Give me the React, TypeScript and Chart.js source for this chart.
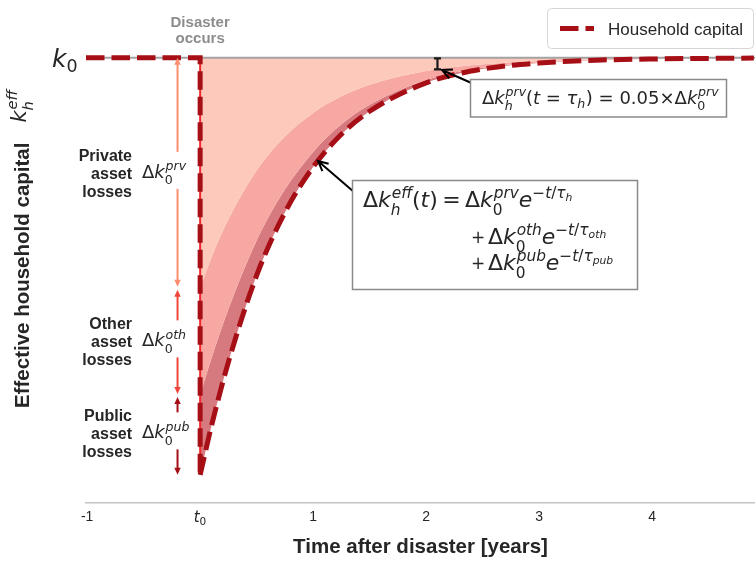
import React, { useEffect, useRef } from 'react';
import { Chart, registerables } from 'chart.js';

Chart.register(...registerables);

// ---------------- data ----------------
const K0 = 100; // pre-disaster capital level
const X_MIN = -1.01;
const X_MAX = 4.91;
const Y_MIN = 0;
const Y_MAX = 113;
const TAU_H = 2.1; // time at which private loss has fallen to 5 %
const ARROW_T = -0.2; // x position of the loss arrows

const xTicks = [-1, 0, 1, 2, 3, 4];
const xTickLabels = ['-1', '', '1', '2', '3', '4']; // t0 drawn as math below

const times = [0, 0.1, 0.25, 0.5, 0.75, 1, 1.25, 1.5, 2, 2.5, 3, 3.5, 4, 4.9];
const prvLoss = [51.67, 44.82, 36.28, 25.32, 17.68, 12.36, 8.63, 6.02, 2.94, 1.44, 0.7, 0.34, 0.17, 0.04];
const othLoss = [24.04, 22.69, 20.22, 15.73, 11.91, 8.76, 6.29, 4.49, 2.02, 0.79, 0.34, 0.13, 0.06, 0.01];
const pubLoss = [17.97, 15.21, 11.84, 7.82, 5.14, 3.39, 2.25, 1.48, 0.65, 0.28, 0.12, 0.05, 0.02, 0.0];

const COL_PRV_FILL = '#fdc9bb';
const COL_OTH_FILL = '#f7a8a2';
const COL_PUB_FILL = '#d77a7f';
const COL_PRV = '#fc8d6f';
const COL_OTH = '#f0453a';
const COL_PUB = '#a50f15';
const COL_LINE = '#a50f15';
const TXT = '#262626';

// ---------------- math text helpers ----------------
type M = { t?: string; it?: boolean; sub?: M[]; sup?: M[]; dx?: number };
const MF = '"DejaVu Sans"';

function setF(ctx: CanvasRenderingContext2D, size: number, it: boolean) {
  ctx.font = `${it ? 'italic ' : ''}${size}px ${MF}`;
}

function drawMath(ctx: CanvasRenderingContext2D, items: M[], x: number, y: number, size: number): number {
  let cx = x;
  for (const it of items) {
    if (it.dx !== undefined) {
      cx += it.dx * size;
    } else if (it.t !== undefined) {
      setF(ctx, size, !!it.it);
      ctx.fillText(it.t, cx, y);
      cx += ctx.measureText(it.t).width;
    } else {
      const s = size * 0.7;
      let w = 0;
      if (it.sup) w = Math.max(w, drawMath(ctx, it.sup, cx + (it.sub ? size * 0.04 : 0), y - size * 0.42, s));
      if (it.sub) w = Math.max(w, drawMath(ctx, it.sub, cx, y + size * (it.sup ? 0.36 : 0.22), s));
      cx += w + size * 0.03;
    }
  }
  return cx - x;
}

const I = (t: string): M => ({ t, it: true });
const R = (t: string): M => ({ t });
const SP = (dx: number): M => ({ dx });

function dArrow(ctx: CanvasRenderingContext2D, x: number, y1: number, y2: number, color: string) {
  const hl = 7;
  const hw = 3.2;
  ctx.strokeStyle = color;
  ctx.fillStyle = color;
  ctx.lineWidth = 2;
  ctx.beginPath();
  ctx.moveTo(x, y1 + hl - 1);
  ctx.lineTo(x, y2 - hl + 1);
  ctx.stroke();
  ctx.beginPath();
  ctx.moveTo(x, y1);
  ctx.lineTo(x - hw, y1 + hl);
  ctx.lineTo(x + hw, y1 + hl);
  ctx.closePath();
  ctx.fill();
  ctx.beginPath();
  ctx.moveTo(x, y2);
  ctx.lineTo(x - hw, y2 - hl);
  ctx.lineTo(x + hw, y2 - hl);
  ctx.closePath();
  ctx.fill();
}

function openArrow(ctx: CanvasRenderingContext2D, x1: number, y1: number, x2: number, y2: number) {
  const a = Math.atan2(y2 - y1, x2 - x1);
  const hl = 11;
  const ha = 0.45;
  ctx.strokeStyle = '#000';
  ctx.lineWidth = 2;
  ctx.lineCap = 'butt';
  ctx.beginPath();
  ctx.moveTo(x1, y1);
  ctx.lineTo(x2, y2);
  ctx.moveTo(x2 - hl * Math.cos(a - ha), y2 - hl * Math.sin(a - ha));
  ctx.lineTo(x2, y2);
  ctx.lineTo(x2 - hl * Math.cos(a + ha), y2 - hl * Math.sin(a + ha));
  ctx.stroke();
}

const annotations = {
  id: 'annotations',
  afterDraw(chart: any) {
    const ctx: CanvasRenderingContext2D = chart.ctx;
    const xs = chart.scales.x;
    const ys = chart.scales.y;
    const px = (v: number) => xs.getPixelForValue(v);
    const py = (v: number) => ys.getPixelForValue(v);
    ctx.save();
    ctx.textBaseline = 'alphabetic';
    ctx.textAlign = 'left';

    // t0 tick label
    ctx.fillStyle = TXT;
    drawMath(ctx, [I('t'), { sub: [R('0')] }], px(0) - 6.5, 522, 15);

    // y axis title
    ctx.save();
    ctx.translate(28.5, 408);
    ctx.rotate(-Math.PI / 2);
    ctx.fillStyle = TXT;
    ctx.font = 'bold 20.5px "Liberation Sans"';
    ctx.fillText('Effective household capital', 0, 0);
    const tw = ctx.measureText('Effective household capital').width;
    drawMath(ctx, [I('k'), { sub: [I('h')], sup: [I('eff')] }], tw + 20, -3, 21);
    ctx.restore();

    // k0 label
    ctx.fillStyle = TXT;
    drawMath(ctx, [I('k'), { sub: [R('0')] }], 52, py(K0) + 9, 25);

    // Disaster occurs
    ctx.fillStyle = '#8c8c8c';
    ctx.font = 'bold 15px "Liberation Sans"';
    ctx.textAlign = 'center';
    ctx.fillText('Disaster', px(0), 27);
    ctx.fillText('occurs', px(0), 43);
    ctx.textAlign = 'left';

    // loss arrows
    const ax = px(ARROW_T);
    const yTop = py(K0);
    const yP = py(K0 - prvLoss[0]);
    const yO = py(K0 - prvLoss[0] - othLoss[0]);
    const yB = py(K0 - prvLoss[0] - othLoss[0] - pubLoss[0]);
    dArrow(ctx, ax, yTop, yP - 1, COL_PRV);
    dArrow(ctx, ax, yP + 2, yO - 1, COL_OTH);
    dArrow(ctx, ax, yO + 2, yB, COL_PUB);

    const groups = [
      { c: (yTop + yP) / 2, lines: ['Private', 'asset', 'losses'], sup: 'prv' },
      { c: (yP + yO) / 2, lines: ['Other', 'asset', 'losses'], sup: 'oth' },
      { c: (yO + yB) / 2 - 1.5, lines: ['Public', 'asset', 'losses'], sup: 'pub' },
    ];
    for (const g of groups) {
      ctx.fillStyle = '#ffffff';
      ctx.fillRect(ax - 6, g.c - 21, 12, 37);
      ctx.fillStyle = TXT;
      ctx.font = 'bold 16px "Liberation Sans"';
      ctx.textAlign = 'right';
      g.lines.forEach((l, i) => ctx.fillText(l, 132, g.c - 12 + i * 18));
      ctx.textAlign = 'left';
      drawMath(ctx, [R('Δ'), I('k'), { sub: [R('0')], sup: [I(g.sup)] }], 142, g.c + 5, 18);
    }

    // 5 % marker at tau_h
    const mx = px(TAU_H);
    const my1 = py(K0);
    const my2 = py(K0 - 0.05 * prvLoss[0]);
    ctx.strokeStyle = '#1a1a1a';
    ctx.lineWidth = 2.2;
    ctx.beginPath();
    ctx.moveTo(mx, my1);
    ctx.lineTo(mx, my2);
    ctx.moveTo(mx - 3.5, my1 + 0.5);
    ctx.lineTo(mx + 3.5, my1 + 0.5);
    ctx.moveTo(mx - 3.5, my2);
    ctx.lineTo(mx + 3.5, my2);
    ctx.stroke();

    openArrow(ctx, 476, 85, 442, 70);
    openArrow(ctx, 354, 192, 318, 161);

    // box 1
    ctx.fillStyle = '#ffffff';
    ctx.strokeStyle = '#8a8a8a';
    ctx.lineWidth = 1.5;
    ctx.fillRect(470.5, 79.5, 256, 37.5);
    ctx.strokeRect(470.5, 79.5, 256, 37.5);
    ctx.fillStyle = TXT;
    drawMath(
      ctx,
      [
        R('Δ'), I('k'), { sub: [I('h')], sup: [I('prv')] }, R('('), I('t'), R(' = '), I('τ'), { sub: [I('h')] }, R(')'),
        R(' = 0.05×Δ'), I('k'), { sub: [R('0')], sup: [I('prv')] },
      ],
      482, 104, 18,
    );

    // box 2
    ctx.fillStyle = '#ffffff';
    ctx.strokeStyle = '#8a8a8a';
    ctx.fillRect(352.5, 180.5, 285, 109);
    ctx.strokeRect(352.5, 180.5, 285, 109);
    ctx.fillStyle = TXT;
    drawMath(
      ctx,
      [
        R('Δ'), I('k'), { sub: [I('h')], sup: [I('eff')] }, R('('), I('t'), R(')'), SP(0.2), R('='), SP(0.2),
        R('Δ'), I('k'), { sub: [R('0')], sup: [I('prv')] }, I('e'),
        { sup: [R('−'), I('t'), R('/'), I('τ'), { sub: [I('h')] }] },
      ],
      363, 207, 22,
    );
    const line = (sup: string, y: number) => {
      ctx.font = '17px "DejaVu Sans"';
      ctx.fillText('+', 471, y - 1);
      drawMath(
        ctx,
        [R('Δ'), I('k'), { sub: [R('0')], sup: [I(sup)] }, I('e'), { sup: [R('−'), I('t'), R('/'), I('τ'), { sub: [I(sup)] }] }],
        488, y, 22,
      );
    };
    line('oth', 244);
    line('pub', 270);

    // legend
    ctx.fillStyle = 'rgba(255,255,255,0.9)';
    ctx.strokeStyle = '#d6d6d6';
    ctx.lineWidth = 1;
    ctx.beginPath();
    (ctx as any).roundRect(547.5, 8.5, 206, 40, 4);
    ctx.fill();
    ctx.stroke();
    ctx.strokeStyle = COL_LINE;
    ctx.lineWidth = 5;
    ctx.setLineDash([18.5, 7]);
    ctx.beginPath();
    ctx.moveTo(560, 28.5);
    ctx.lineTo(594, 28.5);
    ctx.stroke();
    ctx.setLineDash([]);
    ctx.fillStyle = TXT;
    ctx.font = '17px "Liberation Sans"';
    ctx.fillText('Household capital', 608, 34.5);

    ctx.restore();
  },
};

export default function App() {
  const ref = useRef<HTMLCanvasElement | null>(null);

  useEffect(() => {
    if (!ref.current) return;
    Chart.defaults.font.family = '"Liberation Sans", Arial, sans-serif';

    const b1 = times.map((t, i) => ({ x: t, y: K0 - prvLoss[i] }));
    const b2 = times.map((t, i) => ({ x: t, y: K0 - prvLoss[i] - othLoss[i] }));
    const crv = times.map((t, i) => ({ x: t, y: K0 - prvLoss[i] - othLoss[i] - pubLoss[i] }));
    const bottom = crv[0].y;

    const chart = new Chart(ref.current, {
      type: 'line',
      data: {
        datasets: [
          {
            data: b1, fill: { value: K0 }, backgroundColor: COL_PRV_FILL, borderColor: 'transparent', borderWidth: 0,
            cubicInterpolationMode: 'monotone', order: 3,
          },
          {
            data: b2, fill: '-1', backgroundColor: COL_OTH_FILL, borderColor: 'transparent', borderWidth: 0,
            cubicInterpolationMode: 'monotone', order: 3,
          },
          {
            data: crv, fill: '-1', backgroundColor: COL_PUB_FILL, borderColor: 'transparent', borderWidth: 0,
            cubicInterpolationMode: 'monotone', order: 3,
          },
          {
            data: [{ x: X_MIN, y: K0 }, { x: X_MAX, y: K0 }], borderColor: '#a3a3a3', borderWidth: 2, fill: false, order: 2,
          },
          {
            data: [{ x: 0, y: K0 }, { x: 0, y: bottom }], borderColor: '#f0282d', borderWidth: 2, fill: false, order: 2,
          },
          {
            data: [{ x: X_MIN, y: K0 }, { x: 0, y: K0 }, { x: 0, y: bottom }], borderColor: COL_LINE, borderWidth: 5,
            borderDash: [18.5, 7], borderJoinStyle: 'miter', fill: false, order: 1,
          },
          {
            label: 'Household capital', data: crv, borderColor: COL_LINE, borderWidth: 5, borderDash: [18.5, 7],
            cubicInterpolationMode: 'monotone', fill: false, order: 1,
          },
        ] as any,
      },
      options: {
        animation: false,
        responsive: false,
        devicePixelRatio: 1,
        layout: { padding: { left: 86, right: 0, top: 0, bottom: 0 } },
        elements: { point: { radius: 0, hoverRadius: 0 }, line: { borderCapStyle: 'butt' } },
        plugins: { legend: { display: false }, tooltip: { enabled: false } },
        scales: {
          x: {
            type: 'linear',
            min: X_MIN,
            max: X_MAX,
            afterBuildTicks: (s: any) => {
              s.ticks = xTicks.map((v) => ({ value: v }));
            },
            afterFit: (s: any) => {
              s.height = 59;
            },
            grid: { display: false, drawTicks: false },
            border: { display: true, color: '#c4c4c4', width: 1.5 },
            ticks: {
              padding: 6,
              color: TXT,
              autoSkip: false,
              maxRotation: 0,
              callback: (_v: any, i: number) => xTickLabels[i],
              font: { family: 'Liberation Sans', size: 14 },
            },
            title: {
              display: true,
              text: 'Time after disaster [years]',
              color: TXT,
              font: { family: 'Liberation Sans', size: 20.5, weight: 'bold' },
              padding: { top: 0, bottom: 2 },
            },
          },
          y: { display: false, min: Y_MIN, max: Y_MAX },
        },
      } as any,
      plugins: [annotations],
    });
    return () => chart.destroy();
  }, []);

  return (
    <div style={{ position: 'fixed', left: 0, top: 0, width: 755, height: 562, background: '#fff' }}>
      <canvas ref={ref} width={755} height={562} style={{ display: 'block' }} />
    </div>
  );
}
